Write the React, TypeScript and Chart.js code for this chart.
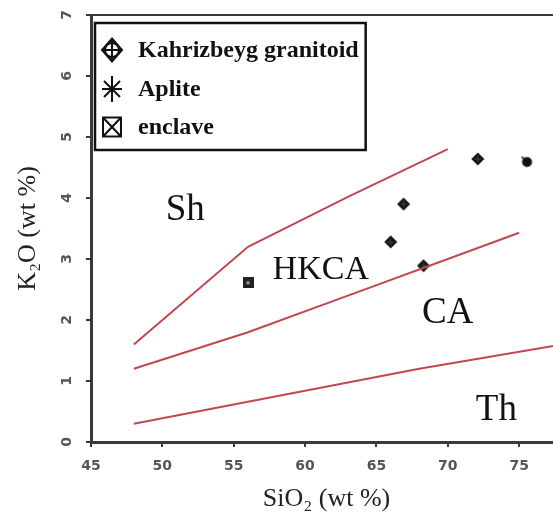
import React, { useEffect, useRef } from "react";
import { Chart, registerables } from "chart.js";

Chart.register(...registerables);

// ---- data ----
const xTicks = [45, 50, 55, 60, 65, 70, 75];
const yTicks = [0, 1, 2, 3, 4, 5, 6, 7];

const seriesNames = ["Kahrizbeyg granitoid", "Aplite", "enclave"];

const granitoidSiO2 = [72.1, 66.9, 66.0, 68.3];
const granitoidK2O = [4.64, 3.9, 3.28, 2.89];
const apliteSiO2 = [75.55];
const apliteK2O = [4.59];
const enclaveSiO2 = [56.0];
const enclaveK2O = [2.61];

const shBoundarySiO2 = [48, 56, 63, 70];
const shBoundaryK2O = [1.6, 3.2, 4.02, 4.8];
const hkcaBoundarySiO2 = [48, 56, 63, 70, 75];
const hkcaBoundaryK2O = [1.2, 1.8, 2.4, 3.0, 3.43];
const caBoundarySiO2 = [48, 68, 80];
const caBoundaryK2O = [0.3, 1.2, 1.68];

const regionNames = ["Sh", "HKCA", "CA", "Th"];
const regionSiO2 = [51.6, 61.1, 70.0, 73.4];
const regionK2O = [3.8, 2.82, 2.11, 0.52];

const SERIF = '"Liberation Serif", "DejaVu Serif", serif';
const AXIS = "#3a3a3a";
const RED = "#c4474f";
const regionFontSize: Record<string, number> = { HKCA: 34 };

const pts = (xs: number[], ys: number[]) => xs.map((x, i) => ({ x, y: ys[i] }));

function makeGranitoidMarker() {
  const c = document.createElement("canvas");
  c.width = 14;
  c.height = 14;
  const g = c.getContext("2d")!;
  g.fillStyle = "#111";
  g.beginPath();
  g.moveTo(7, 0.5);
  g.lineTo(13.5, 7);
  g.lineTo(7, 13.5);
  g.lineTo(0.5, 7);
  g.closePath();
  g.fill();
  g.strokeStyle = "#444";
  g.lineWidth = 1;
  g.beginPath();
  g.moveTo(7, 3.5);
  g.lineTo(7, 10.5);
  g.moveTo(3.5, 7);
  g.lineTo(10.5, 7);
  g.stroke();
  return c;
}

function makeApliteMarker() {
  const c = document.createElement("canvas");
  c.width = 13;
  c.height = 13;
  const g = c.getContext("2d")!;
  g.fillStyle = "#111";
  g.beginPath();
  g.arc(6.5, 6.5, 5, 0, Math.PI * 2);
  g.fill();
  g.strokeStyle = "#111";
  g.lineWidth = 1.5;
  g.beginPath();
  g.moveTo(1, 1);
  g.lineTo(6.5, 6.5);
  g.stroke();
  return c;
}

function makeEnclaveMarker() {
  const c = document.createElement("canvas");
  c.width = 11;
  c.height = 11;
  const g = c.getContext("2d")!;
  g.fillStyle = "#222";
  g.fillRect(0, 0, 11, 11);
  g.fillStyle = "#9a9a9a";
  g.fillRect(4, 4, 3, 3);
  return c;
}

function drawLegendIcon(ctx: CanvasRenderingContext2D, kind: number, cx: number, cy: number) {
  ctx.save();
  ctx.strokeStyle = "#111";
  ctx.lineWidth = 2;
  ctx.beginPath();
  if (kind === 0) {
    ctx.moveTo(cx, cy - 11.5);
    ctx.lineTo(cx + 10, cy);
    ctx.lineTo(cx, cy + 11.5);
    ctx.lineTo(cx - 10, cy);
    ctx.closePath();
    ctx.moveTo(cx + 7, cy);
    ctx.arc(cx, cy, 7, 0, Math.PI * 2);
    ctx.moveTo(cx - 10, cy);
    ctx.lineTo(cx + 10, cy);
    ctx.moveTo(cx, cy - 11.5);
    ctx.lineTo(cx, cy + 11.5);
  } else if (kind === 1) {
    ctx.moveTo(cx, cy - 13);
    ctx.lineTo(cx, cy + 13);
    ctx.moveTo(cx - 10, cy);
    ctx.lineTo(cx + 10, cy);
    ctx.moveTo(cx - 8, cy - 8);
    ctx.lineTo(cx + 8, cy + 8);
    ctx.moveTo(cx + 8, cy - 8);
    ctx.lineTo(cx - 8, cy + 8);
  } else {
    ctx.rect(cx - 9, cy - 9.5, 18, 19);
    ctx.moveTo(cx - 9, cy - 9.5);
    ctx.lineTo(cx + 9, cy + 9.5);
    ctx.moveTo(cx + 9, cy - 9.5);
    ctx.lineTo(cx - 9, cy + 9.5);
  }
  ctx.stroke();
  ctx.restore();
}

const boxLegendPlugin = {
  id: "boxLegend",
  afterDraw(chart: any) {
    const ctx: CanvasRenderingContext2D = chart.ctx;
    const area = chart.chartArea;
    const left = area.left + 4;
    const top = area.top + 8;
    const rows = [27, 66, 104];
    ctx.save();
    ctx.font = `bold 24px ${SERIF}`;
    let maxW = 0;
    seriesNames.forEach((n) => (maxW = Math.max(maxW, ctx.measureText(n).width)));
    const w = 43 + maxW + 7;
    const h = 127;
    ctx.fillStyle = "#fff";
    ctx.fillRect(left, top, w, h);
    ctx.strokeStyle = "#111";
    ctx.lineWidth = 2.5;
    ctx.strokeRect(left, top, w, h);
    ctx.fillStyle = "#111";
    ctx.textAlign = "left";
    ctx.textBaseline = "middle";
    seriesNames.forEach((n, i) => {
      drawLegendIcon(ctx, i, left + 17, top + rows[i]);
      ctx.fillText(n, left + 43, top + rows[i] + 1);
    });
    ctx.restore();
  },
};

const yTickPlugin = {
  id: "yTickRot",
  afterDraw(chart: any) {
    const s = chart.scales.y;
    const ctx: CanvasRenderingContext2D = chart.ctx;
    ctx.save();
    ctx.font = 'bold 14px "DejaVu Sans", sans-serif';
    ctx.fillStyle = "#555";
    ctx.textAlign = "center";
    ctx.textBaseline = "middle";
    s.ticks.forEach((t: any, i: number) => {
      const y = s.getPixelForTick(i);
      ctx.save();
      ctx.translate(s.right - 24, y);
      ctx.rotate(-Math.PI / 2);
      ctx.fillText(String(t.value), 0, 0);
      ctx.restore();
    });
    ctx.restore();
  },
};

const regionPlugin = {
  id: "regions",
  afterDatasetsDraw(chart: any) {
    const { x, y } = chart.scales;
    const ctx: CanvasRenderingContext2D = chart.ctx;
    ctx.save();
    ctx.fillStyle = "#111";
    ctx.textAlign = "center";
    ctx.textBaseline = "middle";
    regionNames.forEach((n, i) => {
      ctx.font = `${regionFontSize[n] ?? 37}px ${SERIF}`;
      ctx.fillText(n, x.getPixelForValue(regionSiO2[i]), y.getPixelForValue(regionK2O[i]));
    });
    ctx.restore();
  },
};

export default function App() {
  const ref = useRef<HTMLCanvasElement>(null);

  useEffect(() => {
    if (!ref.current) return;
    const lineDs = (xs: number[], ys: number[]) => ({
      label: "",
      data: pts(xs, ys),
      showLine: true,
      borderColor: RED,
      borderWidth: 2,
      pointRadius: 0,
      fill: false,
    });
    const chart = new Chart(ref.current, {
      type: "scatter",
      data: {
        datasets: [
          lineDs(shBoundarySiO2, shBoundaryK2O),
          lineDs(hkcaBoundarySiO2, hkcaBoundaryK2O),
          lineDs(caBoundarySiO2, caBoundaryK2O),
          {
            label: seriesNames[0],
            data: pts(granitoidSiO2, granitoidK2O),
            pointStyle: makeGranitoidMarker() as any,
            pointRadius: 7,
          },
          {
            label: seriesNames[1],
            data: pts(apliteSiO2, apliteK2O),
            pointStyle: makeApliteMarker() as any,
            pointRadius: 6,
          },
          {
            label: seriesNames[2],
            data: pts(enclaveSiO2, enclaveK2O),
            pointStyle: makeEnclaveMarker() as any,
            pointRadius: 5,
          },
        ],
      },
      options: {
        responsive: false,
        devicePixelRatio: 1,
        animation: false,
        layout: { padding: { top: 15, left: 0, right: 0, bottom: 0 } },
        plugins: { legend: { display: false }, tooltip: { enabled: false } },
        scales: {
          x: {
            type: "linear",
            position: "bottom",
            min: 45,
            max: 78,
            afterBuildTicks: (s: any) => {
              s.ticks = xTicks.map((v) => ({ value: v }));
            },
            afterFit: (s: any) => {
              s.height = 74;
              s.paddingLeft = 0;
              s.paddingRight = 0;
            },
            grid: { drawOnChartArea: false, drawTicks: true, tickLength: 5, color: AXIS, lineWidth: 2 },
            border: { color: AXIS, width: 3 },
            ticks: {
              font: { family: '"DejaVu Sans", sans-serif', size: 14, weight: "bold" },
              color: "#555",
              padding: 11,
              maxRotation: 0,
              autoSkip: false,
            },
            title: {
              display: true,
              text: "SiO₂ (wt %)",
              font: { family: SERIF, size: 26 },
              color: "#222",
              padding: { top: 0, bottom: 1 },
            },
          },
          xTop: {
            type: "linear",
            position: "top",
            min: 45,
            max: 78,
            ticks: { display: false },
            grid: { display: false },
            border: { color: AXIS, width: 2 },
            afterFit: (s: any) => {
              s.height = 0;
            },
          },
          y: {
            type: "linear",
            position: "left",
            min: 0,
            max: 7,
            afterBuildTicks: (s: any) => {
              s.ticks = yTicks.map((v) => ({ value: v }));
            },
            afterFit: (s: any) => {
              s.width = 91;
            },
            grid: { drawOnChartArea: false, drawTicks: true, tickLength: 5, color: AXIS, lineWidth: 2 },
            border: { color: AXIS, width: 3 },
            ticks: { display: false },
            title: {
              display: true,
              text: "K₂O (wt %)",
              font: { family: SERIF, size: 26 },
              color: "#222",
              padding: { top: 13, bottom: 0 },
            },
          },
        },
      } as any,
      plugins: [regionPlugin, yTickPlugin, boxLegendPlugin],
    });
    return () => chart.destroy();
  }, []);

  return (
    <div
      style={{
        position: "fixed",
        left: 0,
        top: 0,
        width: 553,
        height: 516,
        overflow: "hidden",
        background: "#fff",
      }}
    >
      <canvas ref={ref} width={570} height={516} style={{ display: "block" }} />
    </div>
  );
}
